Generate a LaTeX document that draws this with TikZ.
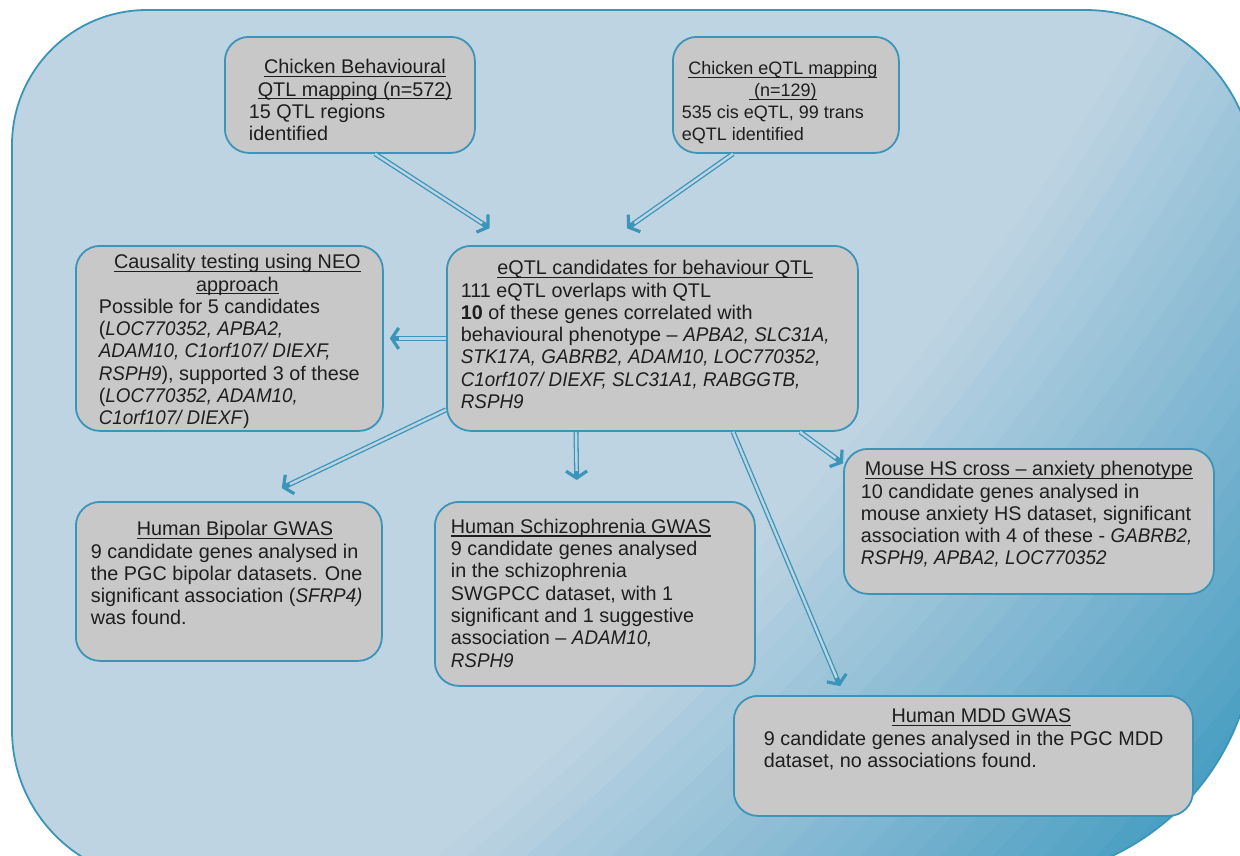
\documentclass[tikz,border=0pt]{standalone}
\usepackage{fontspec}
\setmainfont{Liberation Sans}[ItalicFeatures={FakeStretch=0.95}]
\usetikzlibrary{arrows.meta}
\definecolor{boxline}{HTML}{3A95B8}
\definecolor{boxfill}{HTML}{C8C8C8}
\definecolor{bgl}{HTML}{BFD4E3}
\definecolor{bgd}{HTML}{3A97BE}
\definecolor{txt}{HTML}{1E1E1E}
\newcommand{\boxfont}{\fontsize{19.8}{22.3}\selectfont}
\newlength{\boxpad}
\newlength{\ulwd}
\newcommand{\boxul}[1]{\leavevmode\settowidth{\ulwd}{#1}\rlap{#1}\rule[-3.3pt]{\ulwd}{1.1pt}}
% width, height, left pad, top pad, text
\newcommand{\boxtext}[5]{\parbox[t][#2][t]{#1}{\setlength{\boxpad}{#3}\leftskip=\boxpad\rightskip=0pt plus 1fil\vspace*{#4}#5}}
\newcommand{\boxtitle}[2][0pt]{\makebox[\dimexpr\linewidth-2\boxpad\relax]{\hspace*{#1}\boxul{#2}\hspace*{-#1}}\par}
\tikzset{
	box/.style={draw=boxline, fill=boxfill, line width=1.8pt, rounded corners=24pt, anchor=north west, inner sep=0pt, text=txt, font=\boxfont},
	dblarrow/.style={draw=boxline, line width=5pt, shorten >=#1, -{Straight Barb[length=7pt,width=21pt,line width=3.2pt]},
		postaction={draw=bgl, line width=2.4pt, -, shorten >=#1+9pt}},
	dblarrow/.default=0pt
}

\begin{document}
\begin{tikzpicture}[x=1pt,y=-1pt]
	\useasboundingbox (0,0) rectangle (1240,855);
	% background panel
	\begin{scope}
		\clip (12,400) [rounded corners=135pt] -- (12,10) -- (640,10) [rounded corners=170pt] -- (1255,10) -- (1255,500) [rounded corners=250pt] -- (1255,880) -- (640,880) [rounded corners=150pt] -- (12,880) -- cycle;
		\foreach \i [evaluate=\i as \p using int(\i*10/3), evaluate=\i as \r using 3620-\i*19] in {0,...,30}
			\fill[bgl!\p!bgd] (-1500,-1500) circle (\r);
	\end{scope}
	\draw[boxline, line width=1.8pt] (12,400) [rounded corners=135pt] -- (12,10) -- (640,10) [rounded corners=170pt] -- (1255,10) -- (1255,500) [rounded corners=250pt] -- (1255,880) -- (640,880) [rounded corners=150pt] -- (12,880) -- cycle;

	\node[box] (chkbeh) at (224,36) {\boxtext{250pt}{116pt}{24pt}{22.5pt}{\boxtitle[5pt]{Chicken Behavioural}\boxtitle[5pt]{QTL mapping (n=572)}15 QTL regions\\identified}};
	\node[box, font=\fontsize{18}{22}\selectfont] (chkeqtl) at (672,36) {\boxtext{226pt}{116pt}{9pt}{24.9pt}{\boxtitle[-3pt]{Chicken eQTL mapping}\boxtitle[-3pt]{\ (n=129)}535 cis eQTL, 99 trans\\eQTL identified}};
	\node[box] (neo) at (75,245) {\boxtext{307pt}{185pt}{23pt}{8.5pt}{\boxtitle[8pt]{Causality testing using NEO}\boxtitle[8pt]{approach}Possible for 5 candidates\\(\textit{LOC770352, APBA2,}\\\textit{ADAM10, C1orf107/ DIEXF,}\\\textit{RSPH9}), supported 3 of these\\(\textit{LOC770352, ADAM10,}\\\textit{C1orf107/ DIEXF})}};
	\node[box] (cand) at (446,245) {\boxtext{411pt}{185pt}{14pt}{14.5pt}{\boxtitle[3pt]{eQTL candidates for behaviour QTL}111 eQTL overlaps with QTL\\\textbf{10} of these genes correlated with\\behavioural phenotype – \textit{APBA2, SLC31A,}\\\textit{STK17A, GABRB2, ADAM10, LOC770352,}\\\textit{C1orf107/ DIEXF, SLC31A1, RABGGTB,}\\\textit{RSPH9}}};
	\node[box] (bipolar) at (75,501) {\boxtext{306pt}{159pt}{15pt}{19.5pt}{\boxtitle[6pt]{Human Bipolar GWAS}9 candidate genes analysed in\\the PGC bipolar datasets. One\\significant association (\textit{SFRP4)}\\was found.}};
	\node[box] (schizo) at (434,501) {\boxtext{320pt}{184pt}{16pt}{17pt}{\boxul{Human Schizophrenia GWAS}\\9 candidate genes analysed\\in the schizophrenia\\SWGPCC dataset, with 1\\significant and 1 suggestive\\association – \textit{ADAM10,}\\\textit{RSPH9}}};
	\node[box] (mouse) at (843,448) {\boxtext{370pt}{145pt}{17pt}{12.5pt}{\boxtitle{Mouse HS cross – anxiety phenotype}10 candidate genes analysed in\\mouse anxiety HS dataset, significant\\association with 4 of these - \textit{GABRB2,}\\\textit{RSPH9, APBA2, LOC770352}}};
	\node[box] (mdd) at (733,695) {\boxtext{459pt}{120pt}{30pt}{13pt}{\boxtitle[18pt]{Human MDD GWAS}9 candidate genes analysed in the PGC MDD\\dataset, no associations found.}};

	% connectors
	\draw[dblarrow=31pt] ([xshift=151pt]chkbeh.south west) -- ([xshift=69.7pt]cand.north west);
	\draw[dblarrow=29pt] ([xshift=61pt]chkeqtl.south west) -- ([xshift=157.3pt]cand.north west);
	\draw[dblarrow=6pt] (cand.west) -- (neo.east);
	\draw[dblarrow=30pt] ([yshift=22pt]cand.south west) -- ([xshift=179.7pt]bipolar.north west);
	\draw[dblarrow=21pt] ([xshift=130pt]cand.south west) -- ([xshift=143pt]schizo.north west);
	\draw[dblarrow=9.7pt] ([xshift=287pt]cand.south west) -- ([xshift=110.8pt]mdd.north west);
	\draw[dblarrow] ([xshift=354pt]cand.south west) -- ([yshift=-15.4pt]mouse.north west);
\end{tikzpicture}
\end{document}
